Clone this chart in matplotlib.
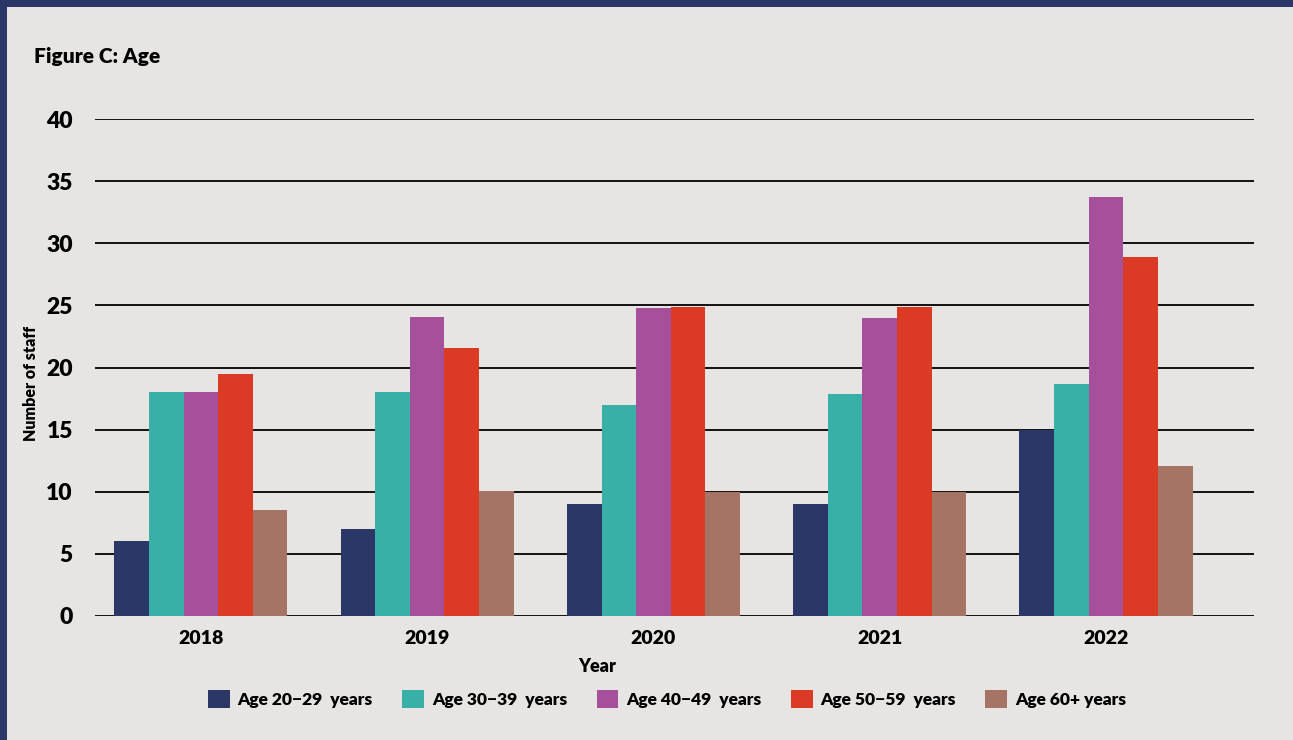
import matplotlib
matplotlib.use("Agg")
import matplotlib.pyplot as plt
from matplotlib.patches import Rectangle, Patch
import numpy as np

plt.rcParams['font.family'] = ['Lato', 'DejaVu Sans']

years = ["2018", "2019", "2020", "2021", "2022"]
series_labels = ["Age 20\u221229  years", "Age 30\u221239  years", "Age 40\u221249  years",
                 "Age 50\u221259  years", "Age 60+ years"]
age_20_29 = [6, 7, 9, 9, 15]
age_30_39 = [18, 18, 17, 17.9, 18.7]
age_40_49 = [18, 24.1, 24.8, 24, 33.7]
age_50_59 = [19.5, 21.6, 24.9, 24.9, 28.9]
age_60_plus = [8.5, 10.1, 10, 10, 12.1]
y_ticks = [0, 5, 10, 15, 20, 25, 30, 35, 40]

series = [age_20_29, age_30_39, age_40_49, age_50_59, age_60_plus]
colors = ["#2b3766", "#38b0a8", "#a64f9a", "#db3a24", "#a57464"]
bg = "#e6e5e3"
navy = "#2b3766"

fig = plt.figure(figsize=(12.93, 7.40), dpi=100, facecolor=bg)

# navy frame strips along the top and left edges
W, H = 1293, 740
fig.patches.append(Rectangle((0, 1 - 7 / H), 1, 7 / H, transform=fig.transFigure,
                             facecolor=navy, edgecolor="none", zorder=0))
fig.patches.append(Rectangle((0, 0), 7 / W, 1, transform=fig.transFigure,
                             facecolor=navy, edgecolor="none", zorder=0))

ax = fig.add_axes([95 / W, 1 - 616 / H, (1254 - 95) / W, (616 - 119) / H])
ax.set_facecolor(bg)

x = np.arange(len(years))
bw = 0.153
for i, (vals, c) in enumerate(zip(series, colors)):
    ax.bar(x + (i - 2) * bw, vals, width=bw, color=c, edgecolor="none", zorder=3)

ax.set_ylim(0, 40)
ax.set_xlim(-0.468, 4.654)
ax.set_yticks(y_ticks)
ax.set_xticks(x)
ax.set_xticklabels(years)
for s in ax.spines.values():
    s.set_visible(False)
ax.yaxis.grid(True, color="#111111", linewidth=1.4, zorder=1)
ax.tick_params(axis="y", length=0, pad=16, labelsize=16.5)
ax.tick_params(axis="x", length=0, pad=10, labelsize=14)
for lab in ax.get_yticklabels() + ax.get_xticklabels():
    lab.set_fontweight("heavy")

ax.set_xlabel("Year", fontsize=13, fontweight="heavy")
ax.xaxis.set_label_coords((597 - 95) / 1159, -(666 - 616) / 497)
ax.xaxis.label.set_va("center")
ax.set_ylabel("Number of staff", fontsize=11.5, fontweight="heavy")
ax.yaxis.set_label_coords((31 - 95) / 1159, (616 - 383) / 497)
ax.yaxis.label.set_va("center")

fig.text(34 / W, 1 - 56 / H, "Figure C: Age", fontsize=15, fontweight="heavy",
         va="center", ha="left")

handles = [Patch(facecolor=c, edgecolor="none") for c in colors]
leg = fig.legend(handles, series_labels, loc="center", ncol=5,
                 bbox_to_anchor=(667 / W, 1 - 699 / H), frameon=False,
                 handlelength=1.25, handleheight=1.25, handletextpad=0.45,
                 columnspacing=1.7, prop={"weight": "heavy", "size": 12.5})

fig.savefig("out.png", dpi=100, facecolor=bg)
